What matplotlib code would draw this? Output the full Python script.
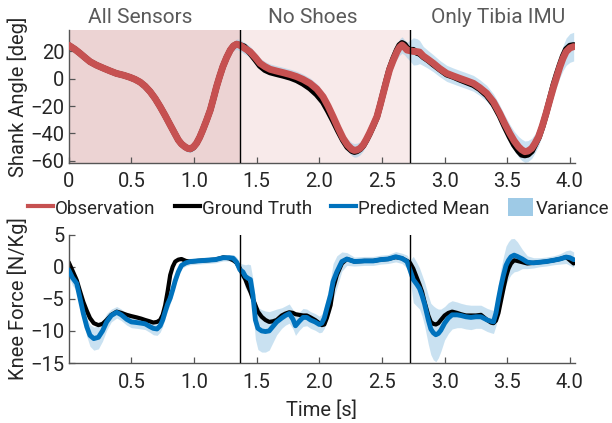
import numpy as np
import matplotlib
matplotlib.use("Agg")
import matplotlib.pyplot as plt
from matplotlib.lines import Line2D
from matplotlib.patches import Patch
from matplotlib.transforms import blended_transform_factory

plt.rcParams['font.family'] = ['Roboto', 'DejaVu Sans']

# ---------------- data ----------------
segment_titles = ["All Sensors", "No Shoes", "Only Tibia IMU"]
segment_bounds = [0.0, 1.367, 2.724, 4.043]
legend_labels = ["Observation", "Ground Truth", "Predicted Mean", "Variance"]

# Shank angle panel
t_ang = [0.00, 0.05, 0.09, 0.13, 0.17, 0.22, 0.28, 0.33, 0.38, 0.44, 0.49, 0.53, 0.57, 0.61, 0.65, 0.69,
         0.73, 0.77, 0.81, 0.84, 0.875, 0.90, 0.93, 0.95, 0.97, 0.995, 1.02, 1.045, 1.07, 1.10, 1.13, 1.155,
         1.18, 1.205, 1.23, 1.26, 1.29, 1.315, 1.34, 1.367,
         1.40, 1.447, 1.49, 1.527, 1.567, 1.607, 1.66, 1.713, 1.77, 1.82, 1.87, 1.926, 1.98, 2.03, 2.07,
         2.11, 2.15, 2.19, 2.225, 2.26, 2.28, 2.30, 2.325, 2.35, 2.375, 2.40, 2.43, 2.46, 2.485, 2.51,
         2.535, 2.56, 2.59, 2.62, 2.64, 2.66, 2.68, 2.70, 2.724,
         2.75, 2.78, 2.80, 2.83, 2.87, 2.91, 2.96, 3.017, 3.07, 3.12, 3.175, 3.23, 3.28, 3.336, 3.39,
         3.44, 3.48, 3.52, 3.555, 3.59, 3.615, 3.64, 3.665, 3.695, 3.72, 3.75, 3.78, 3.81, 3.84, 3.87,
         3.895, 3.92, 3.945, 3.97, 4.00, 4.03]
ang_obs = [24.5, 21.5, 18.6, 15.5, 12.5, 10.0, 7.6, 5.7, 3.9, 2.5, 1.0, -0.5, -2.5, -5.5, -9.5, -14.5,
           -20.5, -27.0, -33.9, -39.0, -44.9, -47.8, -50.0, -51.0, -51.3, -50.0, -47.3, -43.0, -37.6, -30.5,
           -22.9, -14.5, -5.8, 1.8, 8.8, 15.5, 21.0, 24.0, 25.3, 24.5,
           22.5, 19.8, 15.5, 11.3, 8.8, 6.9, 5.6, 4.4, 3.0, 1.5, -0.5, -3.4, -7.5, -13.2, -20.0,
           -27.8, -36.0, -43.6, -48.5, -51.7, -52.5, -52.2, -51.0, -48.5, -44.5, -40.0, -34.0, -27.8, -19.5,
           -10.7, -2.0, 6.4, 13.5, 19.8, 23.0, 24.7, 23.0, 21.0, 20.5,
           20.0, 19.8, 19.5, 16.6, 14.0, 11.3, 7.5, 3.9, 2.0, 0.3, -1.5, -3.4, -6.5, -10.7, -17.0,
           -25.4, -33.0, -40.0, -45.5, -49.8, -52.0, -53.4, -53.0, -51.0, -47.5, -42.5, -34.5, -25.3, -15.5,
           -5.8, 1.5, 8.8, 15.0, 19.8, 22.5, 23.5]
ang_truth = [24.5, 21.5, 18.6, 15.5, 12.5, 10.0, 7.6, 5.7, 3.9, 2.5, 1.0, -0.5, -2.5, -5.5, -9.5, -14.5,
             -20.5, -27.0, -33.9, -39.0, -44.9, -47.8, -50.0, -51.0, -51.5, -50.2, -47.3, -43.0, -37.6, -30.5,
             -22.9, -14.5, -5.8, 1.8, 8.8, 15.5, 21.0, 24.0, 25.3, 24.5,
             23.5, 19.0, 14.0, 9.5, 6.5, 4.8, 3.5, 2.3, 0.8, -1.0, -3.5, -7.0, -11.5, -17.0, -23.5,
             -30.5, -38.0, -45.0, -50.0, -52.8, -53.5, -53.0, -51.5, -49.0, -45.0, -40.5, -34.5, -28.0, -19.5,
             -10.5, -1.5, 7.0, 14.5, 21.0, 24.5, 26.0, 25.0, 22.5, 21.0,
             21.0, 19.0, 18.5, 16.0, 13.5, 10.5, 7.0, 3.2, 1.5, -0.5, -2.5, -4.5, -7.5, -12.0, -18.5,
             -27.0, -35.0, -42.5, -48.5, -53.0, -55.5, -56.0, -55.5, -53.0, -48.5, -43.0, -35.0, -25.5, -15.0,
             -4.5, 3.0, 10.0, 16.5, 21.5, 24.0, 24.5]
ang_sd = [2.5, 2.2, 2.0, 2.0, 2.0, 2.0, 2.0, 2.0, 2.0, 2.0, 2.0, 2.0, 2.0, 2.0, 2.0, 2.0,
          2.0, 2.0, 2.1, 2.2, 2.4, 2.6, 2.8, 2.8, 2.8, 2.8, 2.6, 2.4, 2.2, 2.1, 2.0, 2.0,
          2.0, 2.0, 2.0, 2.2, 2.6, 3.2, 3.8, 4.2,
          4.2, 4.0, 3.8, 3.8, 3.8, 3.9, 3.9, 3.9, 3.9, 3.9, 3.9, 3.9, 3.9, 4.0, 4.1,
          4.1, 4.1, 4.3, 4.5, 4.8, 5.0, 5.0, 4.8, 4.4, 4.1, 3.9, 3.8, 3.8, 3.8,
          3.8, 3.8, 3.9, 4.4, 5.2, 6.0, 6.0, 5.6, 5.8, 7.5,
          10.0, 9.5, 8.5, 7.0, 6.5, 6.2, 6.0, 5.9, 5.8, 5.8, 5.8, 5.8, 5.8, 5.8, 5.9,
          6.1, 6.3, 6.6, 7.0, 7.5, 7.8, 7.8, 7.7, 7.4, 7.0, 6.6, 6.3, 6.1, 6.3,
          6.6, 7.2, 8.0, 9.0, 10.0, 10.5, 10.5]

# Knee force panel
t_force = [0.00, 0.03, 0.064, 0.09, 0.117, 0.145, 0.17, 0.20, 0.237, 0.27, 0.303, 0.34, 0.383, 0.42, 0.463,
           0.50, 0.543, 0.58, 0.61, 0.645, 0.675, 0.705, 0.73, 0.75, 0.77, 0.79, 0.81, 0.83, 0.85, 0.875,
           0.90, 0.935, 0.97, 1.03, 1.10, 1.17, 1.234, 1.28, 1.313, 1.34, 1.367,
           1.39, 1.41, 1.43, 1.45, 1.47, 1.49, 1.51, 1.54, 1.57, 1.60, 1.63, 1.66, 1.70, 1.73, 1.76,
           1.79, 1.81, 1.84, 1.87, 1.90, 1.93, 1.966, 2.00, 2.02, 2.04, 2.06, 2.09, 2.11, 2.14, 2.18,
           2.22, 2.28, 2.36, 2.43, 2.49, 2.55, 2.61, 2.66, 2.70, 2.724,
           2.75, 2.78, 2.80, 2.82, 2.84, 2.87, 2.89, 2.91, 2.93, 2.95, 2.97, 3.00, 3.03, 3.06, 3.10,
           3.13, 3.17, 3.21, 3.25, 3.29, 3.34, 3.37, 3.39, 3.41, 3.43, 3.45, 3.47, 3.49, 3.51, 3.53,
           3.555, 3.58, 3.62, 3.66, 3.71, 3.76, 3.81, 3.87, 3.92, 3.97, 4.00, 4.03]
force_truth = [0.7, -0.6, -2.1, -3.8, -5.5, -6.9, -8.0, -8.8, -9.1, -8.9, -8.3, -7.5, -7.0, -7.2, -7.5,
               -7.7, -7.9, -8.1, -8.3, -8.5, -8.7, -8.6, -8.3, -7.5, -6.0, -3.8, -1.3, 0.0, 0.8, 1.1,
               1.2, 0.9, 0.8, 0.9, 1.0, 1.1, 1.45, 1.3, 1.0, 0.6, -0.3,
               -1.3, -2.0, -3.0, -3.9, -5.0, -6.0, -7.0, -7.8, -8.3, -8.6, -8.5, -8.3, -7.6, -7.3, -7.1,
               -7.2, -7.4, -7.5, -7.6, -7.6, -7.9, -8.3, -8.8, -9.1, -9.0, -8.0, -6.0, -3.4, -1.3, 0.5,
               1.2, 0.8, 0.9, 0.9, 1.1, 1.2, 1.5, 1.3, 0.9, 0.6,
               -0.3, -1.8, -2.8, -3.9, -5.5, -7.6, -8.6, -8.9, -9.0, -8.8, -8.3, -7.6, -7.2, -7.0, -7.2,
               -7.4, -7.6, -7.6, -7.6, -7.5, -8.3, -8.7, -8.8, -8.4, -7.2, -5.3, -3.4, -1.6, -0.3, 0.5,
               1.0, 0.9, 0.7, 0.5, 0.6, 0.7, 0.8, 1.0, 1.2, 1.5, 1.0, 0.5]
force_mean = [-0.5, -1.7, -2.6, -4.9, -7.3, -9.4, -10.7, -11.2, -11.0, -10.0, -8.6, -7.6, -7.1, -7.5, -8.2,
              -8.6, -8.7, -8.8, -8.9, -9.3, -9.6, -9.7, -9.2, -8.3, -7.0, -5.8, -4.9, -3.6, -2.2, -0.8,
              0.2, 0.6, 0.8, 0.9, 1.0, 1.1, 1.4, 1.4, 1.3, 0.7, -0.5,
              -0.8, -1.5, -1.8, -2.0, -4.4, -8.3, -9.6, -10.0, -10.1, -10.0, -9.3, -8.6, -8.0, -7.6, -7.3,
              -8.2, -9.2, -8.5, -7.9, -7.9, -8.3, -8.6, -9.0, -8.8, -8.0, -6.5, -4.4, -2.3, -0.8, 0.8,
              1.2, 0.8, 0.9, 0.9, 1.1, 1.2, 1.55, 1.3, 0.8, -0.5,
              -2.0, -2.8, -3.4, -4.5, -5.8, -8.3, -9.7, -10.3, -10.6, -10.4, -9.9, -8.8, -8.0, -7.5, -7.5,
              -7.6, -7.8, -7.9, -7.8, -7.8, -8.3, -8.5, -8.6, -7.2, -5.0, -3.0, -1.3, 0.2, 1.0, 1.55,
              1.8, 1.6, 1.2, 0.7, 0.6, 0.7, 0.8, 1.0, 1.2, 1.5, 1.4, 1.1]
force_sd = [1.0, 1.2, 1.2, 1.2, 1.3, 1.5, 1.7, 1.8, 1.8, 1.6, 1.3, 1.0, 0.9, 0.9, 0.9,
            0.9, 0.9, 0.9, 0.9, 0.9, 1.0, 1.0, 1.0, 1.0, 1.0, 1.0, 0.9, 0.8, 0.7, 0.6,
            0.5, 0.5, 0.5, 0.5, 0.5, 0.5, 0.5, 0.5, 0.6, 0.8, 1.0,
            1.2, 1.8, 2.2, 2.3, 2.5, 3.0, 3.3, 3.3, 3.2, 3.0, 2.5, 2.0, 1.6, 1.5, 1.5,
            1.5, 1.5, 1.4, 1.4, 1.3, 1.3, 1.3, 1.3, 1.4, 1.6, 1.8, 2.5, 2.8, 2.5, 1.5,
            1.0, 0.7, 0.7, 0.7, 0.7, 0.7, 0.8, 0.8, 1.0, 1.5,
            3.6, 3.4, 3.2, 3.2, 3.4, 3.8, 4.0, 4.2, 4.2, 3.8, 3.3, 2.6, 2.4, 2.2, 2.0,
            1.9, 1.9, 1.9, 1.8, 1.8, 1.8, 1.8, 1.8, 2.0, 2.3, 2.7, 2.9, 3.0, 2.9, 2.8,
            2.6, 2.3, 1.5, 1.0, 0.8, 0.7, 0.7, 0.7, 0.8, 1.0, 1.2, 1.2]

# ---------------- style ----------------
RED = '#c65151'
BLUE = '#0072bd'
VAR = '#9ecae6'
PINK1 = '#ecd3d3'
PINK2 = '#f8eaea'
TXT = '#262626'
SPINE = '#555555'

fig = plt.figure(figsize=(6.12, 4.23), dpi=100)
W, H = 612, 423
def rect(l, r, t, b):
    return [l / W, 1 - b / H, (r - l) / W, (b - t) / H]

ax1 = fig.add_axes(rect(68.7, 575.3, 30.1, 162.7))
ax2 = fig.add_axes(rect(68.7, 575.3, 234.6, 363.0))

t_ang_a = np.array(t_ang)
obs_a = np.array(ang_obs)
sd_a = np.array(ang_sd)
t_f = np.array(t_force)
mean_f = np.array(force_mean)
sd_f = np.array(force_sd)

# top panel
ax1.axvspan(segment_bounds[0], segment_bounds[1], color=PINK1, lw=0, zorder=0)
ax1.axvspan(segment_bounds[1], segment_bounds[2], color=PINK2, lw=0, zorder=0)
ax1.fill_between(t_ang_a, obs_a - sd_a, obs_a + sd_a, color=VAR, alpha=0.55, lw=0, zorder=1)
ax1.plot(t_ang, ang_truth, color='black', lw=4.5, zorder=2, solid_capstyle='round')
ax1.plot(t_ang, ang_obs, color=RED, lw=5, zorder=3, solid_capstyle='round')
for xb in segment_bounds[1:3]:
    ax1.axvline(xb, color='black', lw=1, zorder=4)
ax1.set_xlim(segment_bounds[0], segment_bounds[3])
ax1.set_ylim(-61.5, 35.6)
ax1.set_yticks([-60, -40, -20, 0, 20])
ax1.set_xticks([0, 0.5, 1.0, 1.5, 2.0, 2.5, 3.0, 3.5, 4.0])
ax1.set_xticklabels(['0', '0.5', '1.0', '1.5', '2.0', '2.5', '3.0', '3.5', '4.0'])
ax1.set_ylabel('Shank Angle [deg]', fontsize=14.5, color=TXT, labelpad=2)

trans = blended_transform_factory(ax1.transData, ax1.transAxes)
title_x = [0.569, 1.95, 3.43]
for tx, title in zip(title_x, segment_titles):
    ax1.text(tx, 1.095, title, transform=trans, ha='center', va='center',
             fontsize=15, color='#5a5a5a')

# bottom panel
ax2.fill_between(t_f, mean_f - sd_f, mean_f + sd_f, color=VAR, alpha=0.55, lw=0, zorder=1)
ax2.plot(t_force, force_truth, color='black', lw=3, zorder=2, solid_capstyle='round')
ax2.plot(t_force, force_mean, color=BLUE, lw=3.5, zorder=3, solid_capstyle='round')
for xb in segment_bounds[1:3]:
    ax2.axvline(xb, color='black', lw=1, zorder=4)
ax2.set_xlim(segment_bounds[0], segment_bounds[3])
ax2.set_ylim(-15, 5)
ax2.set_yticks([-15, -10, -5, 0, 5])
ax2.set_xticks([0.5, 1.0, 1.5, 2.0, 2.5, 3.0, 3.5, 4.0])
ax2.set_xticklabels(['0.5', '1.0', '1.5', '2.0', '2.5', '3.0', '3.5', '4.0'])
ax2.set_ylabel('Knee Force [N/Kg]', fontsize=14.5, color=TXT, labelpad=2)
ax2.set_xlabel('Time [s]', fontsize=14.5, color=TXT, labelpad=6)

for ax in (ax1, ax2):
    for s in ('top', 'right'):
        ax.spines[s].set_visible(False)
    for s in ('left', 'bottom'):
        ax.spines[s].set_color(SPINE)
        ax.spines[s].set_linewidth(1.0)
    ax.tick_params(direction='in', length=4.5, width=0.9, color=SPINE,
                   labelsize=14.5, labelcolor=TXT)
    ax.tick_params(axis='x', pad=7)
    ax.tick_params(axis='y', pad=3)
    ax.set_facecolor('none')

# legend
handles = [Line2D([], [], color=RED, lw=3),
           Line2D([], [], color='black', lw=3),
           Line2D([], [], color=BLUE, lw=3),
           Patch(facecolor=VAR, edgecolor='none')]
fig.legend(handles, legend_labels, loc='center', bbox_to_anchor=(318.5 / W, 1 - 208 / H),
           ncol=4, frameon=False, fontsize=13.5, handlelength=1.35, handleheight=1.1,
           handletextpad=0.1, columnspacing=1.0, borderpad=0, labelcolor=TXT)

fig.savefig('out.png', dpi=100)
